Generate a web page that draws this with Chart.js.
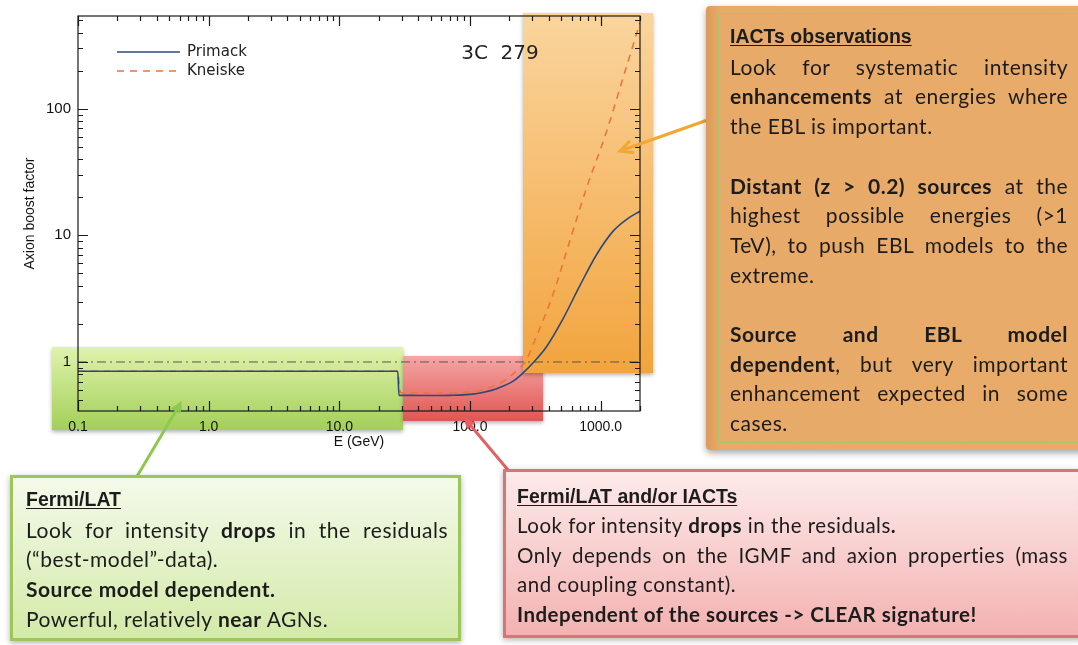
<!DOCTYPE html>
<html>
<head>
<meta charset="utf-8">
<script src="https://cdn.jsdelivr.net/npm/chart.js@4.4.1/dist/chart.umd.min.js"></script>
<style>
  html, body { margin: 0; padding: 0; background: #fff; }
  #wrap { position: relative; width: 1078px; height: 645px; overflow: hidden; }
  #chart { position: absolute; left: 0; top: 0; }
  .box { position: absolute; box-sizing: border-box; }
  .txt { position: absolute; font-family: Lato, 'Open Sans', sans-serif; font-size: 21px; letter-spacing: 0.5px; color: #1c1c1c; line-height: 29.7px; }
  .txt div { white-space: nowrap; }
  .txt .t { font-family: 'Liberation Sans Narrow', 'Liberation Sans', sans-serif; font-weight: bold; font-size: 19.5px; letter-spacing: 0; text-decoration: underline; text-underline-offset: 2px; }
  .txt .j { text-align: justify; text-align-last: justify; white-space: normal; }
  .txt b { font-weight: 700; }
</style>
</head>
<body>
<div id="wrap">
  <canvas id="chart" width="1078" height="645"></canvas>

  <div class="box" style="left:706px;top:6px;width:380px;height:444px;background:linear-gradient(to right,#dd9a5a 0px,#e8aa69 14px,#e9ab6a 100%);box-shadow:0 3px 7px rgba(0,0,0,0.35);border-radius:4px;"></div>
  <div class="box" style="left:718px;top:13px;width:370px;height:430px;border:1px solid #a9c46e;"></div>
  <div class="txt" style="left:730px;top:22px;width:338px;">
    <div class="t">IACTs observations</div>
    <div class="j">Look for systematic intensity</div>
    <div class="j"><b>enhancements</b> at energies where</div>
    <div>the EBL is important.</div>
    <div>&nbsp;</div>
    <div class="j"><b>Distant (z &gt; 0.2) sources</b> at the</div>
    <div class="j">highest possible energies (&gt;1</div>
    <div class="j">TeV), to push EBL models to the</div>
    <div>extreme.</div>
    <div>&nbsp;</div>
    <div class="j"><b>Source and EBL model</b></div>
    <div class="j"><b>dependent</b>, but very important</div>
    <div class="j">enhancement expected in some</div>
    <div>cases.</div>
  </div>

  <div class="box" style="left:10px;top:475px;width:451px;height:166px;border:3px solid #9cc65b;background:linear-gradient(to bottom,#f4faea,#d3eaa8);box-shadow:0 2px 6px rgba(0,0,0,0.3);"></div>
  <div class="txt" style="left:26px;top:485px;width:422px;">
    <div class="t">Fermi/LAT</div>
    <div class="j">Look for intensity <b>drops</b> in the residuals</div>
    <div>(“best-model”-data).</div>
    <div><b>Source model dependent.</b></div>
    <div>Powerful, relatively <b>near</b> AGNs.</div>
  </div>

  <div class="box" style="left:503px;top:469px;width:580px;height:169px;border:3px solid #d97575;background:linear-gradient(to bottom,#fdeaea,#f3b2b1);box-shadow:0 2px 6px rgba(0,0,0,0.3);"></div>
  <div class="txt" style="left:517px;top:482px;width:551px;line-height:29.4px;font-size:20.5px;">
    <div class="t">Fermi/LAT and/or IACTs</div>
    <div>Look for intensity <b>drops</b> in the residuals<b>.</b></div>
    <div class="j">Only depends on the IGMF and axion properties (mass</div>
    <div>and coupling constant).</div>
    <div><b>Independent of the sources -&gt; CLEAR signature!</b></div>
  </div>
</div>

<script>
// Axion boost factor vs energy, 3C 279
const primackE     = [0.1, 28, 28.6, 35, 50, 70, 100, 130, 160, 214, 255, 308, 385, 516, 693, 927, 1245, 1600, 2000];
const primackBoost = [0.845, 0.845, 0.545, 0.545, 0.543, 0.545, 0.555, 0.58, 0.615, 0.705, 0.82, 1.0, 1.32, 2.2, 4.0, 7.0, 10.8, 13.5, 15.5];

const kneiskeE     = [0.1, 27.8, 29.5, 40, 60, 90, 120, 160, 200, 240, 265, 323, 434, 581, 780, 1109, 1490, 2000];
const kneiskeBoost = [0.845, 0.845, 0.572, 0.57, 0.568, 0.575, 0.595, 0.66, 0.76, 0.9, 1.0, 1.6, 3.47, 9.06, 23.7, 66, 178, 478];

const unityE     = [0.1, 2000];
const unityBoost = [1, 1];

const xTickValues = [0.1, 1, 10, 100, 1000];
const xTickLabels = ['0.1', '1.0', '10.0', '100.0', '1000.0'];
const yTickValues = [1, 10, 100];
const yTickLabels = ['1', '10', '100'];

const seriesNames = ['Primack', 'Kneiske'];
const sourceName = '3C  279';

const toPoints = (xs, ys) => xs.map((x, i) => ({ x: x, y: ys[i] }));

// coloured highlight boxes behind the plot (slide overlays)
const highlightBoxes = [
    { x: 52, y: 347, w: 351, h: 83, top: '#dff3ad', bottom: '#a3cf58' },
    { x: 403, y: 356, w: 140, h: 65, top: '#f5a6a5', bottom: '#e05652' },
    { x: 523, y: 13, w: 130, h: 360, top: '#fad59e', bottom: '#f2a43e' }
];

const boxPlugin = {
    id: 'boxes',
    beforeDraw(chart) {
        const ctx = chart.ctx;
        highlightBoxes.forEach(b => {
            ctx.save();
            const g = ctx.createLinearGradient(0, b.y, 0, b.y + b.h);
            g.addColorStop(0, b.top);
            g.addColorStop(1, b.bottom);
            ctx.shadowColor = 'rgba(0,0,0,0.3)';
            ctx.shadowBlur = 4;
            ctx.shadowOffsetY = 2;
            ctx.fillStyle = g;
            ctx.fillRect(b.x, b.y, b.w, b.h);
            ctx.restore();
        });
    }
};

// IDL style frame with inward ticks on all four sides
const framePlugin = {
    id: 'frame',
    afterDatasetsDraw(chart) {
        const { ctx, chartArea: a, scales: { x, y } } = chart;
        ctx.save();
        ctx.strokeStyle = '#1a1a1a';
        ctx.lineWidth = 1.2;
        ctx.strokeRect(a.left, a.top, a.right - a.left, a.bottom - a.top);
        ctx.beginPath();
        [0.1, 1, 10, 100, 1000].forEach(d => {
            for (let m = 1; m <= 9; m++) {
                const v = m * d;
                if (v < x.min || v > x.max) continue;
                const px = Math.round(x.getPixelForValue(v)) + 0.5;
                const len = m === 1 ? 10 : 5;
                ctx.moveTo(px, a.bottom); ctx.lineTo(px, a.bottom - len);
                ctx.moveTo(px, a.top); ctx.lineTo(px, a.top + len);
            }
        });
        [0.1, 1, 10, 100].forEach(d => {
            for (let m = 1; m <= 9; m++) {
                const v = m * d;
                if (v < y.min || v > y.max) continue;
                const py = Math.round(y.getPixelForValue(v)) + 0.5;
                const len = m === 1 ? 10 : 5;
                ctx.moveTo(a.left, py); ctx.lineTo(a.left + len, py);
                ctx.moveTo(a.right, py); ctx.lineTo(a.right - len, py);
            }
        });
        ctx.stroke();
        ctx.restore();
    }
};

function arrow(ctx, x1, y1, x2, y2, color, width, head) {
    const ang = Math.atan2(y2 - y1, x2 - x1);
    ctx.save();
    ctx.strokeStyle = color;
    ctx.lineWidth = width;
    ctx.lineCap = 'round';
    ctx.beginPath();
    ctx.moveTo(x1, y1);
    ctx.lineTo(x2, y2);
    ctx.moveTo(x2 - head * Math.cos(ang - 0.45), y2 - head * Math.sin(ang - 0.45));
    ctx.lineTo(x2, y2);
    ctx.lineTo(x2 - head * Math.cos(ang + 0.45), y2 - head * Math.sin(ang + 0.45));
    ctx.stroke();
    ctx.restore();
}

const labelPlugin = {
    id: 'labels',
    afterDraw(chart) {
        const ctx = chart.ctx;
        const ds = chart.data.datasets;
        ctx.save();
        // legend
        ctx.font = '15px "DejaVu Sans", sans-serif';
        ctx.fillStyle = '#222';
        ctx.textBaseline = 'middle';
        [0, 1].forEach(i => {
            const ly = 52 + i * 19;
            ctx.strokeStyle = ds[i].borderColor;
            ctx.lineWidth = 1.5;
            ctx.setLineDash(ds[i].borderDash || []);
            ctx.beginPath();
            ctx.moveTo(117, ly);
            ctx.lineTo(180, ly);
            ctx.stroke();
            ctx.fillText(seriesNames[i], 187, ly);
        });
        ctx.setLineDash([]);
        ctx.font = '20px "DejaVu Sans", sans-serif';
        ctx.textAlign = 'center';
        ctx.fillText(sourceName, 500, 54);
        ctx.restore();

        arrow(ctx, 716, 117, 620, 151, '#f0a830', 3, 13);
        arrow(ctx, 136, 478, 180, 404, '#8cc94c', 3, 8);
        arrow(ctx, 508, 470, 466, 420, '#e06262', 3, 8);
    }
};

new Chart(document.getElementById('chart'), {
    type: 'line',
    data: {
        datasets: [
            {
                label: seriesNames[0],
                data: toPoints(primackE, primackBoost),
                borderColor: '#284a7e',
                borderWidth: 1.6,
                pointRadius: 0,
                cubicInterpolationMode: 'monotone'
            },
            {
                label: seriesNames[1],
                data: toPoints(kneiskeE, kneiskeBoost),
                borderColor: '#ec7538',
                borderWidth: 1.6,
                borderDash: [7, 6],
                pointRadius: 0,
                cubicInterpolationMode: 'monotone'
            },
            {
                label: 'unity',
                data: toPoints(unityE, unityBoost),
                borderColor: '#555',
                borderWidth: 1,
                borderDash: [9, 4, 2, 4],
                pointRadius: 0
            }
        ]
    },
    options: {
        responsive: false,
        animation: false,
        devicePixelRatio: 1,
        layout: { padding: { left: 0, top: 13, right: 438, bottom: 184 } },
        scales: {
            x: {
                type: 'logarithmic',
                min: 0.1,
                max: 2000,
                grid: { display: false, drawTicks: false },
                border: { display: false },
                afterBuildTicks: s => { s.ticks = xTickValues.map(v => ({ value: v })); },
                afterFit: s => { s.height = 50; },
                ticks: {
                    autoSkip: false,
                    maxRotation: 0,
                    padding: 8,
                    color: '#111',
                    font: { family: 'Liberation Sans', size: 14 },
                    callback: (v, i) => xTickLabels[i]
                },
                title: {
                    display: true,
                    text: 'E (GeV)',
                    color: '#111',
                    font: { family: 'Liberation Sans', size: 14 },
                    padding: { top: 0, bottom: 10 }
                }
            },
            y: {
                type: 'logarithmic',
                min: 0.41,
                max: 540,
                grid: { display: false, drawTicks: false },
                border: { display: false },
                afterBuildTicks: s => { s.ticks = yTickValues.map(v => ({ value: v })); },
                afterFit: s => { s.width = 78; },
                ticks: {
                    autoSkip: false,
                    padding: 7,
                    color: '#111',
                    font: { family: 'Liberation Sans', size: 15 },
                    callback: (v, i) => yTickLabels[i]
                },
                title: {
                    display: true,
                    text: 'Axion boost factor',
                    color: '#111',
                    font: { family: 'Liberation Sans', size: 14 },
                    padding: { top: 22, bottom: 0 }
                }
            }
        },
        plugins: {
            legend: { display: false },
            tooltip: { enabled: false }
        }
    },
    plugins: [boxPlugin, framePlugin, labelPlugin]
});
</script>
</body>
</html>
